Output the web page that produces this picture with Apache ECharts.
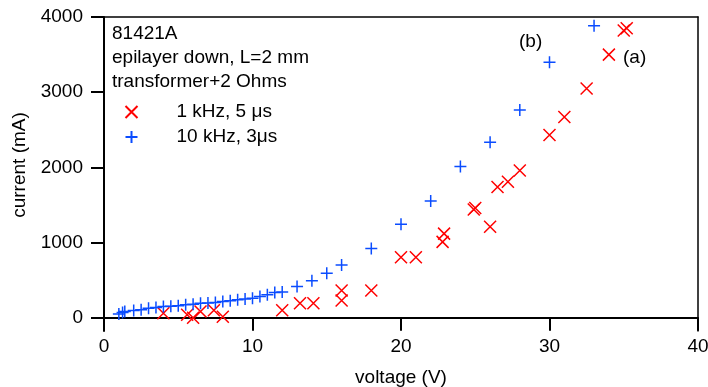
<!DOCTYPE html>
<html>
<head>
<meta charset="utf-8">
<script src="https://cdn.jsdelivr.net/npm/echarts@6/dist/echarts.min.js"></script>
<style>html,body{margin:0;padding:0;background:#fff;}#c{width:708px;height:387px;}</style>
</head>
<body>
<div id="c"></div>
<script>
// ---- data ----
const redName = '1 kHz, 5 \u03bcs';
const blueName = '10 kHz, 3\u03bcs';
const redV = [4.0, 5.6, 6.0, 6.5, 7.4, 8.0, 12.0, 13.2, 14.1, 16.0, 16.0, 18.0, 20.0, 21.0, 22.8, 22.9, 24.9, 25.0, 26.0, 26.5, 27.2, 28.0, 30.0, 31.0, 32.5, 34.0, 35.0, 35.2];
const redI = [60, 40, 0, 84, 100, 15, 100, 195, 195, 230, 363, 363, 806, 806, 1010, 1120, 1440, 1460, 1210, 1740, 1810, 1960, 2430, 2670, 3050, 3500, 3820, 3850];
const blueV = [1.0, 1.25, 1.4, 2.0, 2.5, 3.0, 3.5, 4.0, 4.5, 5.0, 5.5, 6.0, 6.5, 7.0, 7.5, 8.0, 8.5, 9.0, 9.5, 10.0, 10.5, 11.0, 11.5, 12.0, 13.0, 14.0, 15.0, 16.0, 18.0, 20.0, 22.0, 24.0, 26.0, 28.0, 30.0, 33.0];
const blueI = [50, 70, 85, 97, 106, 129, 137, 150, 155, 160, 173, 182, 195, 198, 205, 217, 226, 239, 250, 262, 283, 306, 336, 345, 416, 492, 594, 704, 921, 1245, 1555, 2011, 2335, 2764, 3398, 3885];
const yTicks = [0, 1000, 2000, 3000, 4000];
const infoLines = ['81421A', 'epilayer down, L=2 mm', 'transformer+2 Ohms'];

const FONT = '"Liberation Sans", Arial, Helvetica, sans-serif';
const FS = 19;
const zip = (a, b) => a.map((v, i) => [v, b[i]]);
const plain = v => String(v);

const chart = echarts.init(document.getElementById('c'), null, {renderer: 'canvas'});
chart.setOption({
  animation: false,
  backgroundColor: '#fff',
  textStyle: {fontFamily: FONT},
  title: {
    text: infoLines.join('\n'),
    left: 112, top: 22, padding: 0,
    textStyle: {fontSize: FS, fontWeight: 'normal', color: '#000', lineHeight: 24, fontFamily: FONT}
  },
  legend: {
    orient: 'vertical', left: 123, top: 102, padding: 0,
    itemWidth: 12, itemHeight: 12, itemGap: 5,
    textStyle: {fontSize: FS, color: '#000', lineHeight: 20, padding: [0, 0, 0, 34], fontFamily: FONT},
    data: [redName, blueName]
  },
  grid: {left: 104, right: 10, top: 17, bottom: 56, containLabel: false, outerBoundsMode: 'none'},
  xAxis: [{
    type: 'value', min: 0, max: 40, interval: 10,
    axisLine: {show: true, onZero: true, lineStyle: {color: '#000', width: 2}},
    axisTick: {show: true, inside: false, length: 13, lineStyle: {color: '#000', width: 2}},
    axisLabel: {fontSize: FS, color: '#000', margin: 6, fontFamily: FONT, formatter: plain},
    splitLine: {show: false},
    name: 'voltage (V)', nameLocation: 'middle', nameGap: 37,
    nameTextStyle: {fontSize: FS, color: '#000', fontFamily: FONT}
  }, {
    type: 'value', min: 0, max: 40, position: 'top',
    axisLine: {show: true, onZero: false, lineStyle: {color: '#000', width: 1.5}},
    axisTick: {show: false}, axisLabel: {show: false}, splitLine: {show: false}
  }],
  yAxis: [{
    type: 'value', min: -175, max: 4000,
    axisLine: {show: true, onZero: false, lineStyle: {color: '#000', width: 2}},
    axisTick: {show: true, inside: false, length: 13, customValues: yTicks, lineStyle: {color: '#000', width: 2}},
    axisLabel: {fontSize: FS, color: '#000', margin: 21, customValues: yTicks, fontFamily: FONT, formatter: plain},
    splitLine: {show: false},
    name: 'current (mA)', nameLocation: 'middle', nameGap: 75, nameRotate: 90,
    nameTextStyle: {fontSize: FS, color: '#000', fontFamily: FONT, padding: [0, 0, 0, 18]}
  }, {
    type: 'value', min: -175, max: 4000, position: 'right',
    axisLine: {show: true, onZero: false, lineStyle: {color: '#000', width: 1.5}},
    axisTick: {show: false}, axisLabel: {show: false}, splitLine: {show: false}
  }],
  graphic: [
    {type: 'text', left: 519, top: 32, style: {text: '(b)', fill: '#000', font: FS + 'px ' + FONT}},
    {type: 'text', left: 623, top: 48, style: {text: '(a)', fill: '#000', font: FS + 'px ' + FONT}}
  ],
  series: [{
    name: redName, type: 'scatter', xAxisIndex: 0, yAxisIndex: 0,
    data: zip(redV, redI),
    symbol: 'path://M0,0L10,10M10,0L0,10', symbolSize: 12,
    itemStyle: {color: 'none', borderColor: '#ff0000', borderWidth: 1.5, opacity: 1}
  }, {
    name: blueName, type: 'scatter', xAxisIndex: 0, yAxisIndex: 0,
    data: zip(blueV, blueI),
    symbol: 'path://M5,0L5,10M0,5L10,5', symbolSize: 12,
    itemStyle: {color: 'none', borderColor: '#0a4cff', borderWidth: 1.5, opacity: 1}
  }]
});
</script>
</body>
</html>
